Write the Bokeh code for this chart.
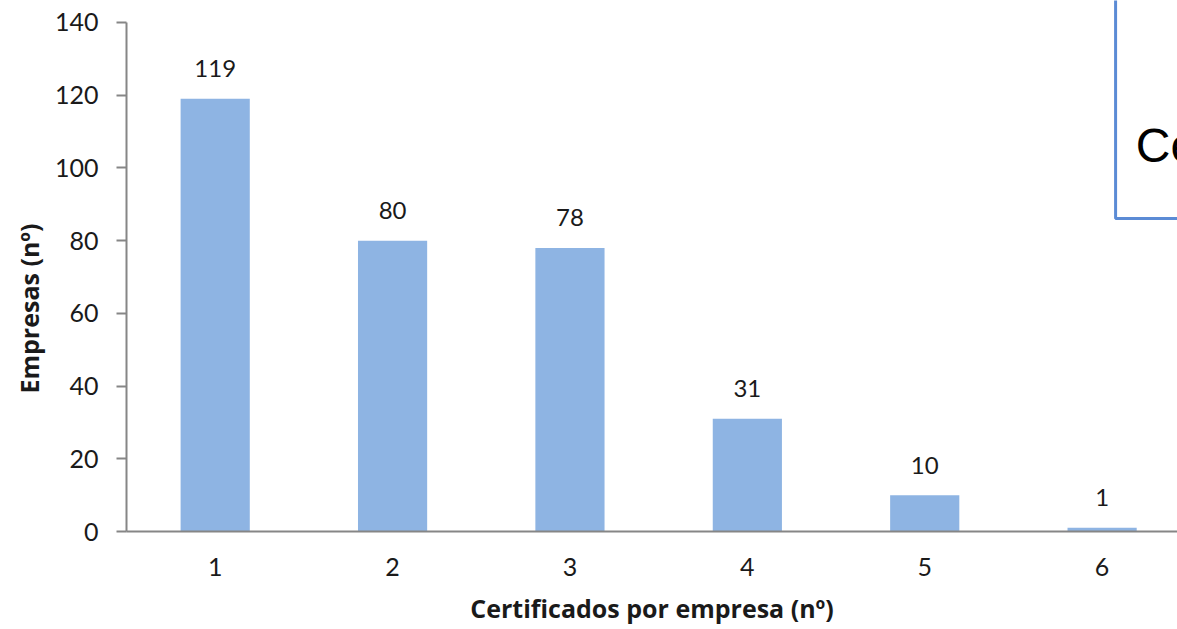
from bokeh.plotting import figure
from bokeh.models import Range1d, FixedTicker, ColumnDataSource, Title
from bokeh.core.properties import value
from bokeh.embed import file_html
from bokeh.resources import INLINE

categories = ["1", "2", "3", "4", "5", "6"]
empresas = [119, 80, 78, 31, 10, 1]
y_ticks = [0, 20, 40, 60, 80, 100, 120, 140]
box_text = "Certificados por empresa"
x_title = "Certificados por empresa (nº)"
y_title = "Empresas (nº)"

xs = list(range(1, len(categories) + 1))
src = ColumnDataSource(dict(x=xs, top=empresas, label=[str(v) for v in empresas]))

p = figure(width=1177, height=629, output_backend="svg", toolbar_location=None,
           x_range=Range1d(0.5, 6.425), y_range=Range1d(0, 146.05),
           min_border_left=126, min_border_right=0, min_border_top=0, min_border_bottom=98)
p.outline_line_color = None
p.grid.visible = False
p.background_fill_color = "white"
p.border_fill_color = "white"

p.vbar(x="x", top="top", width=0.39, bottom=0, source=src,
       fill_color="#8EB4E3", line_color=None)
p.text(x="x", y="top", text="label", source=src, text_align="center",
       text_baseline="alphabetic", y_offset=-30, text_font=value("Lato"),
       text_font_size="24px", text_color="#1a1a1a")

# text box (top right)
p.quad(left=6.076, right=7.5, bottom=86.1, top=200, fill_color="white",
       line_color="#5B8BD5", line_width=3)
p.text(x=[6.19], y=[106.2], text=[box_text], text_font=value("Liberation Sans"),
       text_font_size="48px", text_color="black", text_baseline="alphabetic")

axis_color = "#868686"
# y axis
p.yaxis.ticker = FixedTicker(ticks=y_ticks)
p.yaxis.bounds = (0, 140)
p.yaxis.axis_line_color = axis_color
p.yaxis.axis_line_width = 2
p.yaxis.major_tick_line_color = axis_color
p.yaxis.major_tick_line_width = 2
p.yaxis.major_tick_out = 10
p.yaxis.major_tick_in = 0
p.yaxis.minor_tick_line_color = None
p.yaxis.major_label_standoff = 18
p.yaxis.major_label_text_font = "Lato"
p.yaxis.major_label_text_font_size = "25px"
p.yaxis.major_label_text_color = "#1a1a1a"

# y axis title as a side title, shifted down like in the reference
ytitle = Title(text=y_title, align="left", offset=138, standoff=12,
               text_font="Open Sans", text_font_style="bold", text_font_size="25px",
               text_color="#1a1a1a")
p.add_layout(ytitle, "left")

# x axis
p.xaxis.ticker = FixedTicker(ticks=xs)
p.xaxis.major_label_overrides = {x: c for x, c in zip(xs, categories)}
p.xaxis.axis_line_color = axis_color
p.xaxis.axis_line_width = 2
p.xaxis.major_tick_out = 0
p.xaxis.major_tick_in = 0
p.xaxis.minor_tick_line_color = None
p.xaxis.major_label_standoff = 26
p.xaxis.major_label_text_font = "Lato"
p.xaxis.major_label_text_font_size = "25px"
p.xaxis.major_label_text_color = "#1a1a1a"
p.xaxis.axis_label = x_title
p.xaxis.axis_label_text_font = "Open Sans"
p.xaxis.axis_label_text_font_style = "bold"
p.xaxis.axis_label_text_font_size = "25px"
p.xaxis.axis_label_text_color = "#1a1a1a"
p.xaxis.axis_label_standoff = 12

open("out.html", "w").write(file_html(p, INLINE))
